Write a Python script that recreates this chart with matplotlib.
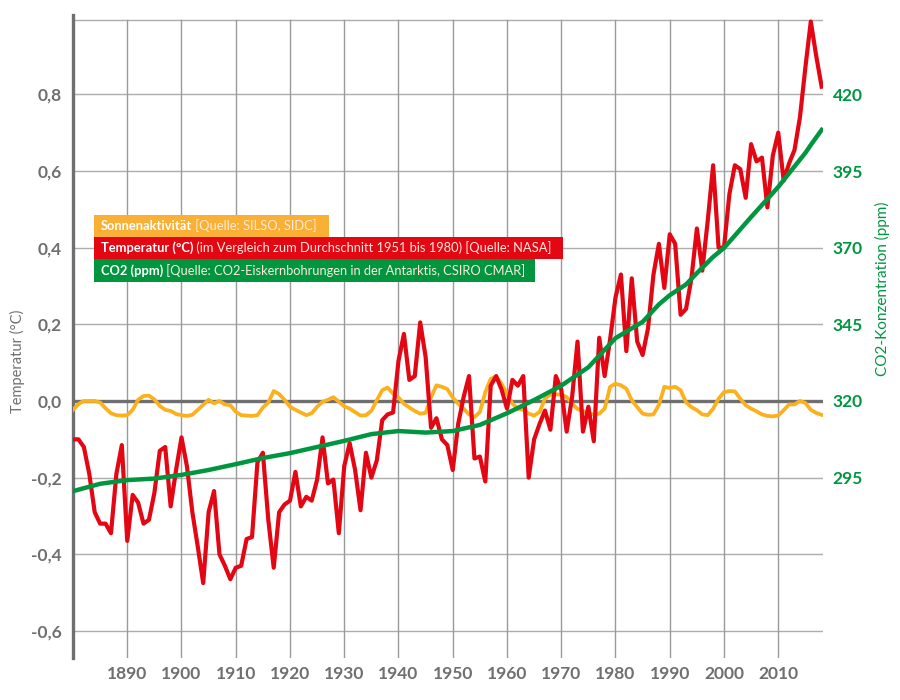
import matplotlib
matplotlib.use("Agg")
import matplotlib.pyplot as plt

years = list(range(1880, 2019))

temperature = [
    -0.10, -0.10, -0.12, -0.19, -0.29, -0.32, -0.32, -0.345, -0.19, -0.115,
    -0.365, -0.245, -0.265, -0.32, -0.31, -0.24, -0.13, -0.12, -0.275, -0.18,
    -0.095, -0.17, -0.29, -0.38, -0.475, -0.29, -0.235, -0.40, -0.43, -0.465,
    -0.435, -0.43, -0.36, -0.355, -0.16, -0.135, -0.31, -0.435, -0.29, -0.27,
    -0.26, -0.185, -0.275, -0.25, -0.26, -0.205, -0.095, -0.215, -0.205, -0.345,
    -0.17, -0.11, -0.18, -0.285, -0.135, -0.20, -0.155, -0.05, -0.035, -0.03,
    0.105, 0.175, 0.055, 0.065, 0.205, 0.115, -0.07, -0.045, -0.10, -0.115,
    -0.18, -0.06, 0.01, 0.065, -0.15, -0.145, -0.21, 0.04, 0.065, 0.03,
    -0.02, 0.055, 0.04, 0.065, -0.20, -0.10, -0.06, -0.025, -0.075, 0.065,
    0.03, -0.08, 0.01, 0.155, -0.08, -0.015, -0.105, 0.165, 0.065, 0.16,
    0.27, 0.33, 0.13, 0.32, 0.155, 0.12, 0.19, 0.33, 0.41, 0.295,
    0.435, 0.41, 0.225, 0.24, 0.32, 0.45, 0.34, 0.47, 0.615, 0.40,
    0.40, 0.54, 0.615, 0.605, 0.53, 0.67, 0.625, 0.635, 0.505, 0.64,
    0.70, 0.575, 0.62, 0.655, 0.74, 0.87, 0.99, 0.90, 0.82,
]

solar = [
    -0.023, -0.008, 0.0, 0.0, 0.0, -0.004, -0.019, -0.032, -0.037, -0.038,
    -0.037, -0.023, 0.003, 0.013, 0.014, 0.004, -0.013, -0.023, -0.026, -0.034,
    -0.037, -0.039, -0.036, -0.023, -0.01, 0.003, -0.006, 0.0, -0.009, -0.011,
    -0.028, -0.037, -0.038, -0.039, -0.037, -0.017, -0.004, 0.026, 0.018, 0.003,
    -0.015, -0.023, -0.03, -0.037, -0.032, -0.015, -0.002, 0.003, 0.01, -0.002,
    -0.014, -0.02, -0.029, -0.038, -0.037, -0.026, 0.002, 0.028, 0.035, 0.019,
    0.009, -0.007, -0.017, -0.026, -0.033, -0.031, 0.01, 0.041, 0.037, 0.031,
    0.009, -0.007, -0.02, -0.035, -0.042, -0.029, 0.023, 0.058, 0.064, 0.045,
    0.019, -0.007, -0.02, -0.023, -0.033, -0.038, -0.029, 0.006, 0.017, 0.017,
    0.017, 0.01, -0.007, -0.021, -0.026, -0.033, -0.035, -0.033, -0.02, 0.037,
    0.045, 0.041, 0.032, 0.002, -0.016, -0.033, -0.036, -0.035, -0.01, 0.037,
    0.034, 0.037, 0.028, -0.003, -0.016, -0.024, -0.035, -0.037, -0.02, 0.006,
    0.023, 0.026, 0.025, 0.006, -0.011, -0.02, -0.027, -0.035, -0.039, -0.04,
    -0.038, -0.024, -0.009, -0.009, 0.0, -0.005, -0.023, -0.031, -0.036,
]

co2_years = [1880, 1885, 1890, 1895, 1900, 1905, 1910, 1915, 1920, 1925, 1930, 1935,
             1940, 1945, 1950, 1955, 1960, 1965, 1970, 1975, 1980, 1985, 1988, 1990,
             1993, 1995, 1998, 2000, 2005, 2010, 2013, 2015, 2016, 2018]
co2 = [290.6, 293.0, 294.2, 294.7, 295.9, 297.5, 299.4, 301.4, 303.0, 305.0, 307.0, 309.2,
       310.2, 309.7, 310.2, 312.2, 316.0, 320.3, 325.0, 331.0, 340.5, 345.8, 351.5, 354.5,
       358.0, 361.7, 367.0, 369.9, 380.0, 389.8, 396.5, 400.9, 403.5, 408.4]

left_ticks = [-0.6, -0.4, -0.2, 0.2, 0.4, 0.6, 0.8]
left_labels = ["-0,6", "-0,4", "-0,2", "0,2", "0,4", "0,6", "0,8"]
co2_ticks = [295, 320, 345, 370, 395, 420]
x_ticks = list(range(1890, 2020, 10))

GREY = "#6f6f6f"
RED = "#e30613"
GREEN = "#009640"
ORANGE = "#fbb01e"

plt.rcParams["font.family"] = ["Lato", "DejaVu Sans"]

fig = plt.figure(figsize=(9, 7), dpi=100)
ax = fig.add_axes([73 / 900, 42 / 700, 750 / 900, 643 / 700])

ax.set_xlim(1880, 2018.25)
ax.set_ylim(-0.6705, 1.007)

# grid
for y in [-0.6, -0.4, -0.2, 0.2, 0.4, 0.6, 0.8, 0.995]:
    ax.axhline(y, color="#adadad", lw=1.0, zorder=1)
for x in x_ticks:
    ax.plot([x, x], [-0.6705, 0.995], color="#9a9a9a", lw=1.0, zorder=1)
ax.axhline(0, color=GREY, lw=2.4, zorder=2)

ax.plot(years, solar, color=ORANGE, lw=2.7, zorder=3, solid_joinstyle="round")
ax.plot(years, temperature, color=RED, lw=3.0, zorder=4, solid_joinstyle="round")

for s in ["top", "right", "bottom"]:
    ax.spines[s].set_visible(False)
ax.spines["left"].set_color(GREY)
ax.spines["left"].set_linewidth(2.4)

ax.set_xticks(x_ticks)
ax.set_xticklabels([str(x) for x in x_ticks], fontsize=12.5, fontweight="bold", color=GREY)
ax.set_yticks(left_ticks + [0])
ax.set_yticklabels(left_labels + ["0,0"], fontsize=12.5, fontweight="bold", color=GREY)
ax.tick_params(axis="both", length=0)
ax.tick_params(axis="x", pad=6)
ax.tick_params(axis="y", pad=8)

# CO2 axis, 25 ppm lines up with 0,2 degrees
ax2 = ax.twinx()
ax2.set_ylim(320 + 125 * -0.6705, 320 + 125 * 1.007)
ax2.plot(co2_years, co2, color=GREEN, lw=3.2, zorder=5)
for s in ax2.spines.values():
    s.set_visible(False)
ax2.set_yticks(co2_ticks)
ax2.set_yticklabels([str(t) for t in co2_ticks], fontsize=12.5, fontweight="bold", color=GREEN)
ax2.tick_params(axis="y", length=0, pad=7)

fig.text(17 / 900, 1 - 361 / 700, "Temperatur (°C)", rotation=90, color=GREY,
         fontsize=10.5, ha="center", va="center")
fig.text(882 / 900, 1 - 289 / 700, "CO2-Konzentration (ppm)", rotation=90, color=GREEN,
         fontsize=11, ha="center", va="center")

# legend boxes
boxes = [
    (215, 237, 329, "#fab035", "Sonnenaktivität", " [Quelle: SILSO, SIDC]"),
    (237, 259, 563, RED, "Temperatur (°C)", " (im Vergleich zum Durchschnitt 1951 bis 1980) [Quelle: NASA]"),
    (259, 282, 535, GREEN, "CO2 (ppm)", " [Quelle: CO2-Eiskernbohrungen in der Antarktis, CSIRO CMAR]"),
]
renderer = fig.canvas.get_renderer()
for top, bottom, right, colour, bold, rest in boxes:
    fig.patches.append(plt.Rectangle((94 / 900, 1 - bottom / 700), (right - 94) / 900, (bottom - top) / 700,
                                     transform=fig.transFigure, color=colour, lw=0, zorder=6))
    y = 1 - (top + bottom) / 2 / 700
    t1 = fig.text(101 / 900, y, bold, color="white", fontsize=9.3, fontweight="bold",
                  va="center", zorder=7)
    ext = t1.get_window_extent(renderer)
    fig.text(ext.x1 / 900, y, rest, color="#ffe9dc", fontsize=9.3, va="center", zorder=7)

fig.savefig("out.png", dpi=100)
